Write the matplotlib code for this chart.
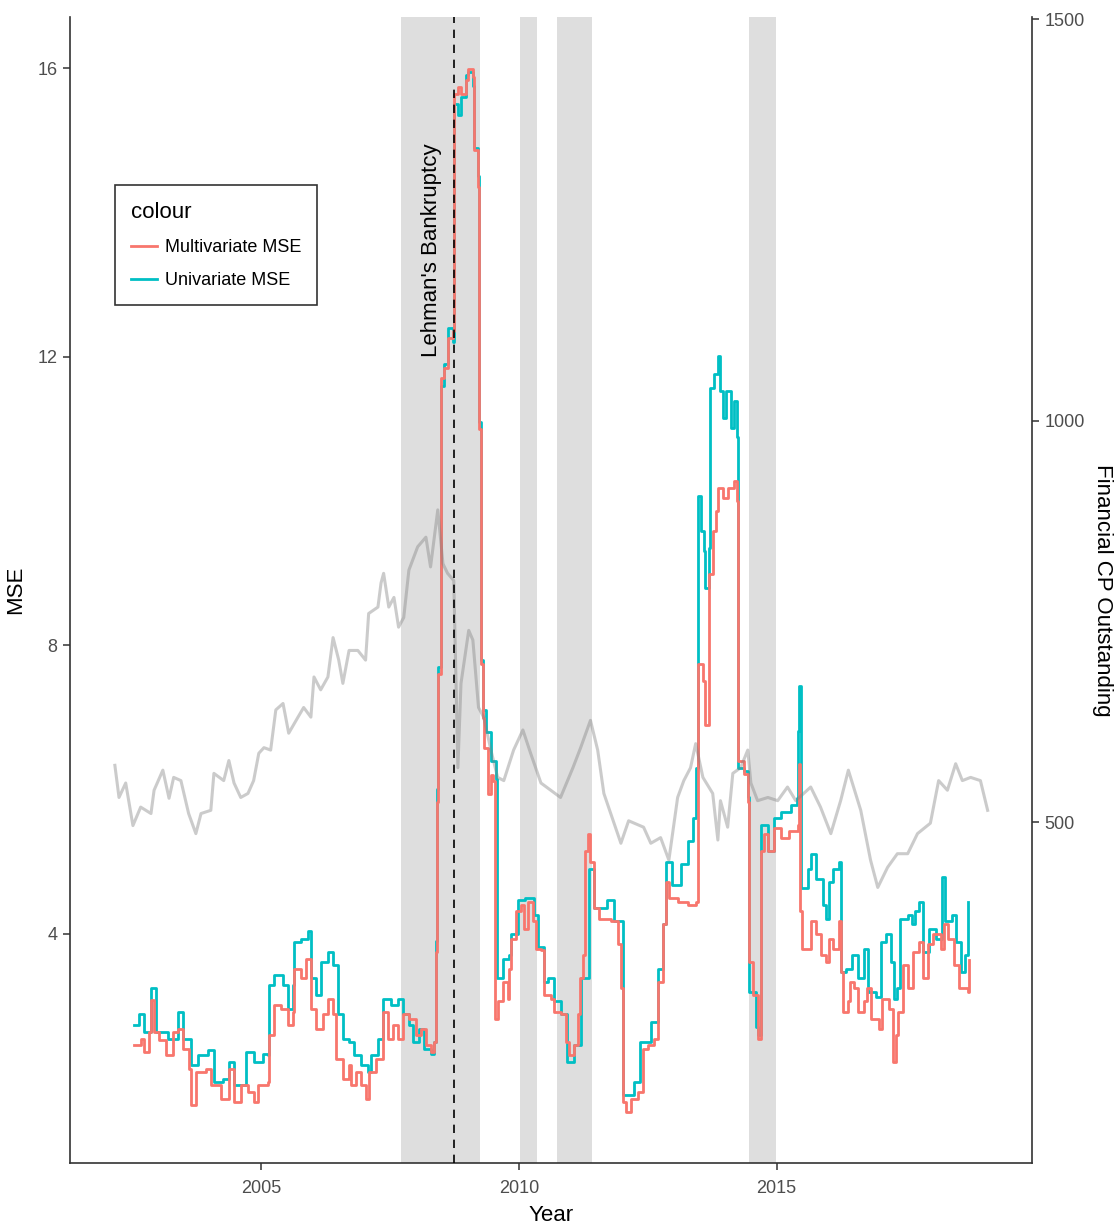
import numpy as np
import matplotlib
matplotlib.use("Agg")
import matplotlib.pyplot as plt

plt.rcParams['font.family'] = ['Liberation Sans', 'DejaVu Sans']

# %% DATA
cp_year = [2002.17, 2002.25, 2002.38, 2002.52, 2002.67, 2002.87, 2002.93, 2003.10,
           2003.22, 2003.31, 2003.45, 2003.60, 2003.74, 2003.84, 2004.03, 2004.09,
           2004.28, 2004.38, 2004.48, 2004.61, 2004.75, 2004.86, 2004.96, 2005.06,
           2005.19, 2005.29, 2005.43, 2005.54, 2005.72, 2005.83, 2005.97, 2006.03,
           2006.16, 2006.30, 2006.40, 2006.51, 2006.59, 2006.71, 2006.88, 2007.03,
           2007.09, 2007.27, 2007.33, 2007.38, 2007.48, 2007.58, 2007.67, 2007.77,
           2007.87, 2008.04, 2008.20, 2008.29, 2008.43, 2008.53, 2008.62, 2008.74,
           2008.82, 2008.88, 2009.03, 2009.11, 2009.22, 2009.32, 2009.46, 2009.59,
           2009.71, 2009.90, 2010.08, 2010.23, 2010.43, 2010.62, 2010.81, 2011.05,
           2011.20, 2011.39, 2011.53, 2011.65, 2011.98, 2012.13, 2012.42, 2012.56,
           2012.75, 2012.91, 2013.08, 2013.20, 2013.33, 2013.43, 2013.57, 2013.76,
           2013.86, 2013.91, 2014.05, 2014.15, 2014.30, 2014.44, 2014.50, 2014.63,
           2014.83, 2015.02, 2015.21, 2015.37, 2015.66, 2015.85, 2016.05, 2016.24,
           2016.39, 2016.63, 2016.82, 2016.96, 2017.15, 2017.34, 2017.54, 2017.73,
           2017.98, 2018.14, 2018.31, 2018.47, 2018.60, 2018.76, 2018.95, 2019.09]
cp_value = [571, 531, 549, 496, 519, 511, 540, 565,
            530, 556, 552, 511, 486, 511, 515, 561,
            552, 577, 549, 531, 536, 552, 586, 593,
            590, 640, 648, 611, 631, 643, 631, 681,
            665, 681, 730, 702, 673, 714, 714, 702,
            760, 768, 798, 810, 768, 780, 743, 755,
            814, 843, 855, 818, 889, 822, 810, 801,
            568, 673, 739, 727, 643, 631, 590, 556,
            552, 590, 615, 586, 549, 540, 531, 568,
            593, 627, 590, 536, 474, 502, 494, 474,
            481, 453, 531, 552, 568, 598, 556, 536,
            478, 527, 494, 561, 568, 590, 549, 527,
            531, 527, 544, 527, 544, 519, 486, 527,
            565, 515, 453, 419, 444, 461, 461, 486,
            499, 552, 540, 573, 552, 556, 552, 515]

multi_year = [2002.54, 2002.67, 2002.73, 2002.83, 2002.87, 2002.93, 2003.02, 2003.16,
              2003.29, 2003.39, 2003.49, 2003.60, 2003.64, 2003.74, 2003.93, 2004.03,
              2004.22, 2004.38, 2004.48, 2004.61, 2004.75, 2004.86, 2004.94, 2005.14,
              2005.16, 2005.25, 2005.39, 2005.52, 2005.62, 2005.64, 2005.78, 2005.87,
              2005.97, 2006.07, 2006.20, 2006.30, 2006.40, 2006.45, 2006.59, 2006.71,
              2006.74, 2006.84, 2006.94, 2007.03, 2007.09, 2007.23, 2007.36, 2007.46,
              2007.56, 2007.65, 2007.75, 2007.87, 2008.00, 2008.10, 2008.20, 2008.29,
              2008.35, 2008.39, 2008.41, 2008.43, 2008.49, 2008.55, 2008.62, 2008.72,
              2008.74, 2008.82, 2008.88, 2008.97, 2009.01, 2009.11, 2009.13, 2009.21,
              2009.22, 2009.26, 2009.30, 2009.32, 2009.40, 2009.46, 2009.51, 2009.53,
              2009.59, 2009.69, 2009.79, 2009.81, 2009.84, 2009.94, 2010.04, 2010.10,
              2010.17, 2010.27, 2010.33, 2010.43, 2010.48, 2010.62, 2010.68, 2010.81,
              2010.91, 2010.97, 2011.07, 2011.14, 2011.18, 2011.24, 2011.28, 2011.34,
              2011.39, 2011.45, 2011.55, 2011.78, 2011.92, 2011.98, 2012.02, 2012.07,
              2012.17, 2012.31, 2012.40, 2012.50, 2012.62, 2012.69, 2012.79, 2012.85,
              2012.91, 2013.08, 2013.28, 2013.43, 2013.47, 2013.57, 2013.62, 2013.68,
              2013.76, 2013.82, 2013.86, 2013.95, 2014.05, 2014.17, 2014.24, 2014.26,
              2014.36, 2014.44, 2014.46, 2014.55, 2014.63, 2014.69, 2014.75, 2014.83,
              2014.94, 2015.08, 2015.23, 2015.41, 2015.43, 2015.45, 2015.49, 2015.61,
              2015.66, 2015.76, 2015.85, 2015.95, 2016.01, 2016.10, 2016.20, 2016.24,
              2016.28, 2016.38, 2016.43, 2016.49, 2016.57, 2016.69, 2016.76, 2016.82,
              2016.98, 2017.05, 2017.17, 2017.25, 2017.31, 2017.36, 2017.44, 2017.54,
              2017.65, 2017.75, 2017.83, 2017.93, 2018.04, 2018.18, 2018.24, 2018.33,
              2018.43, 2018.53, 2018.70, 2018.72]
multi_mse = [2.46, 2.54, 2.36, 2.64, 3.08, 2.64, 2.53, 2.32,
             2.64, 2.68, 2.40, 2.13, 1.62, 2.08, 2.13, 1.90,
             1.71, 2.13, 1.67, 1.90, 1.81, 1.67, 1.90, 1.94,
             2.60, 3.01, 2.96, 2.74, 2.92, 3.51, 3.38, 3.65,
             2.96, 2.68, 2.88, 3.10, 2.88, 2.26, 1.99, 2.18,
             1.90, 2.08, 1.90, 1.71, 2.08, 2.26, 2.92, 2.54,
             2.74, 2.54, 2.88, 2.82, 2.60, 2.68, 2.46, 2.36,
             2.50, 3.75, 5.83, 7.60, 11.71, 11.85, 12.26, 12.36,
             15.64, 15.74, 15.64, 15.83, 15.99, 15.88, 14.86, 14.35,
             11.00, 7.74, 6.99, 6.57, 5.93, 6.20, 6.11, 2.82,
             3.06, 3.33, 3.10, 3.51, 3.93, 4.31, 4.40, 4.07,
             4.44, 4.17, 3.79, 3.78, 3.15, 3.10, 2.92, 2.88,
             2.50, 2.32, 2.46, 2.88, 3.38, 3.71, 5.14, 5.38,
             5.00, 4.35, 4.21, 4.17, 3.85, 3.24, 1.67, 1.53,
             1.71, 1.81, 2.40, 2.46, 2.54, 3.33, 4.13, 4.72,
             4.49, 4.44, 4.40, 4.44, 7.74, 7.50, 6.90, 8.99,
             9.58, 9.86, 10.18, 10.04, 10.18, 10.28, 10.00, 6.39,
             6.21, 5.83, 3.61, 3.15, 2.54, 5.14, 5.38, 5.14,
             5.46, 5.32, 5.42, 5.51, 6.35, 4.31, 3.79, 3.79,
             4.17, 3.99, 3.71, 3.61, 3.93, 3.79, 4.17, 3.47,
             2.92, 3.06, 3.33, 3.24, 2.92, 3.06, 3.24, 2.82,
             2.68, 3.10, 2.96, 2.22, 2.60, 2.92, 3.57, 3.24,
             3.75, 3.89, 3.38, 3.85, 3.99, 3.79, 4.13, 3.93,
             3.57, 3.24, 3.19, 3.64]

uni_year = [2002.54, 2002.64, 2002.73, 2002.87, 2002.97, 2003.20, 2003.39, 2003.49,
            2003.64, 2003.78, 2003.97, 2004.09, 2004.26, 2004.38, 2004.48, 2004.71,
            2004.86, 2005.04, 2005.14, 2005.16, 2005.25, 2005.43, 2005.52, 2005.62,
            2005.64, 2005.78, 2005.91, 2005.97, 2006.07, 2006.16, 2006.30, 2006.40,
            2006.49, 2006.59, 2006.71, 2006.80, 2006.94, 2007.07, 2007.13, 2007.27,
            2007.36, 2007.52, 2007.65, 2007.75, 2007.87, 2007.95, 2008.06, 2008.16,
            2008.29, 2008.35, 2008.39, 2008.41, 2008.43, 2008.49, 2008.55, 2008.62,
            2008.72, 2008.74, 2008.82, 2008.88, 2008.97, 2009.01, 2009.11, 2009.13,
            2009.21, 2009.22, 2009.26, 2009.30, 2009.36, 2009.46, 2009.55, 2009.57,
            2009.69, 2009.81, 2009.84, 2009.98, 2010.13, 2010.29, 2010.37, 2010.48,
            2010.57, 2010.68, 2010.81, 2010.94, 2011.07, 2011.20, 2011.36, 2011.45,
            2011.72, 2011.84, 2012.02, 2012.03, 2012.23, 2012.36, 2012.56, 2012.69,
            2012.79, 2012.85, 2012.98, 2013.14, 2013.28, 2013.37, 2013.43, 2013.47,
            2013.53, 2013.59, 2013.62, 2013.68, 2013.70, 2013.78, 2013.86, 2013.91,
            2013.95, 2014.01, 2014.11, 2014.17, 2014.24, 2014.26, 2014.36, 2014.44,
            2014.46, 2014.59, 2014.63, 2014.69, 2014.84, 2014.94, 2015.08, 2015.27,
            2015.39, 2015.41, 2015.43, 2015.48, 2015.60, 2015.66, 2015.76, 2015.89,
            2015.95, 2016.01, 2016.10, 2016.20, 2016.24, 2016.34, 2016.47, 2016.57,
            2016.69, 2016.78, 2016.92, 2017.02, 2017.11, 2017.21, 2017.27, 2017.34,
            2017.40, 2017.54, 2017.63, 2017.69, 2017.75, 2017.83, 2017.95, 2018.08,
            2018.20, 2018.27, 2018.39, 2018.47, 2018.57, 2018.66, 2018.70]
uni_mse = [2.74, 2.88, 2.64, 3.24, 2.64, 2.54, 2.92, 2.54,
           2.18, 2.32, 2.39, 1.94, 1.99, 2.22, 1.90, 2.36,
           2.22, 2.33, 2.32, 3.29, 3.43, 3.29, 2.96, 3.29,
           3.89, 3.93, 4.03, 3.38, 3.15, 3.61, 3.75, 3.57,
           2.88, 2.54, 2.50, 2.32, 2.18, 2.08, 2.32, 2.54,
           3.10, 3.01, 3.10, 2.88, 2.74, 2.50, 2.68, 2.40,
           2.33, 2.50, 3.90, 6.00, 7.70, 11.60, 11.90, 12.40,
           12.20, 15.50, 15.35, 15.60, 15.90, 15.95, 15.75, 14.90,
           14.50, 11.10, 7.80, 7.10, 6.80, 6.39, 6.15, 3.38,
           3.65, 3.71, 4.00, 4.47, 4.49, 4.26, 3.82, 3.33,
           3.38, 3.06, 2.88, 2.22, 2.46, 3.38, 4.90, 4.35,
           4.47, 4.17, 2.92, 1.76, 1.94, 2.50, 2.78, 3.51,
           4.13, 5.00, 4.68, 4.96, 5.28, 5.60, 6.29, 10.07,
           9.58, 9.31, 8.79, 9.35, 11.57, 11.76, 12.01, 11.53,
           11.15, 11.53, 11.01, 11.38, 10.88, 6.30, 6.25, 5.90,
           3.19, 2.70, 2.60, 5.51, 5.14, 5.60, 5.69, 5.79,
           5.88, 6.81, 7.43, 4.63, 4.90, 5.10, 4.76, 4.40,
           4.21, 4.72, 4.90, 5.00, 3.47, 3.51, 3.71, 3.38,
           3.79, 3.19, 3.12, 3.89, 4.00, 3.61, 3.10, 3.24,
           4.21, 4.26, 4.13, 4.31, 4.44, 3.75, 4.06, 3.93,
           4.79, 4.17, 4.26, 3.89, 3.47, 3.71, 4.44]

shade_start = [2007.71, 2010.02, 2010.74, 2014.46]
shade_end = [2009.24, 2010.35, 2011.42, 2014.98]
lehman_year = 2008.75

# %% PLOT
fig = plt.figure(figsize=(11.15, 12.24), dpi=100)
ax = fig.add_axes([70 / 1115, 1 - 1163 / 1224, 962 / 1115, 1146 / 1224])

for s, e in zip(shade_start, shade_end):
    ax.axvspan(s, e, color='#DEDEDE', lw=0, zorder=0)

ax.plot(uni_year, uni_mse, color='#00BFC4', lw=2, drawstyle='steps-post',
        label='Univariate MSE', zorder=2)
ax.plot(multi_year, multi_mse, color='#F8766D', lw=2, drawstyle='steps-post',
        label='Multivariate MSE', zorder=3)

ax2 = ax.twinx()
ax2.plot(cp_year, cp_value, color='#7F7F7F', alpha=0.4, lw=2.2, zorder=4)
ax2.axvline(lehman_year, color='black', ls=(0, (5, 4)), lw=1.2, zorder=5)
ax2.text(lehman_year - 0.44, 12.0, "Lehman's Bankruptcy", rotation=90,
         ha='center', va='bottom', fontsize=16, color='black',
         transform=ax.transData)

ax.set_xlim(2001.30, 2019.95)
ax.set_ylim(0.82, 16.71)
ax2.set_ylim(76, 1502.5)
ax.set_xticks([2005, 2010, 2015])
ax.set_yticks([4, 8, 12, 16])
ax2.set_yticks([500, 1000, 1500])

for a in (ax, ax2):
    a.spines['top'].set_visible(False)
    for sp in a.spines.values():
        sp.set_color('#333333')
        sp.set_linewidth(1.2)
    a.tick_params(length=5, width=1.1, color='#333333', labelcolor='#4D4D4D',
                  labelsize=13, pad=4)
ax.tick_params(axis='x', pad=7)
ax.spines['right'].set_visible(False)
ax2.spines['left'].set_visible(False)
ax2.spines['bottom'].set_visible(False)

ax.set_xlabel('Year', fontsize=16, labelpad=6)
ax.set_ylabel('MSE', fontsize=16, labelpad=8)
ax2.set_ylabel('Financial CP Outstanding', fontsize=16, rotation=270,
               labelpad=20)

h, l = ax.get_legend_handles_labels()
leg = ax.legend(h[::-1], l[::-1], title='colour', loc='upper left',
                bbox_to_anchor=(0.0468, 0.853), borderaxespad=0,
                fontsize=13, title_fontsize=16, frameon=True, fancybox=False,
                edgecolor='black', handlelength=1.4, handletextpad=0.45,
                labelspacing=0.9, borderpad=0.9, alignment='left')
leg.get_frame().set_linewidth(1.2)
leg.set_zorder(10)

fig.savefig('out.png', dpi=100)
